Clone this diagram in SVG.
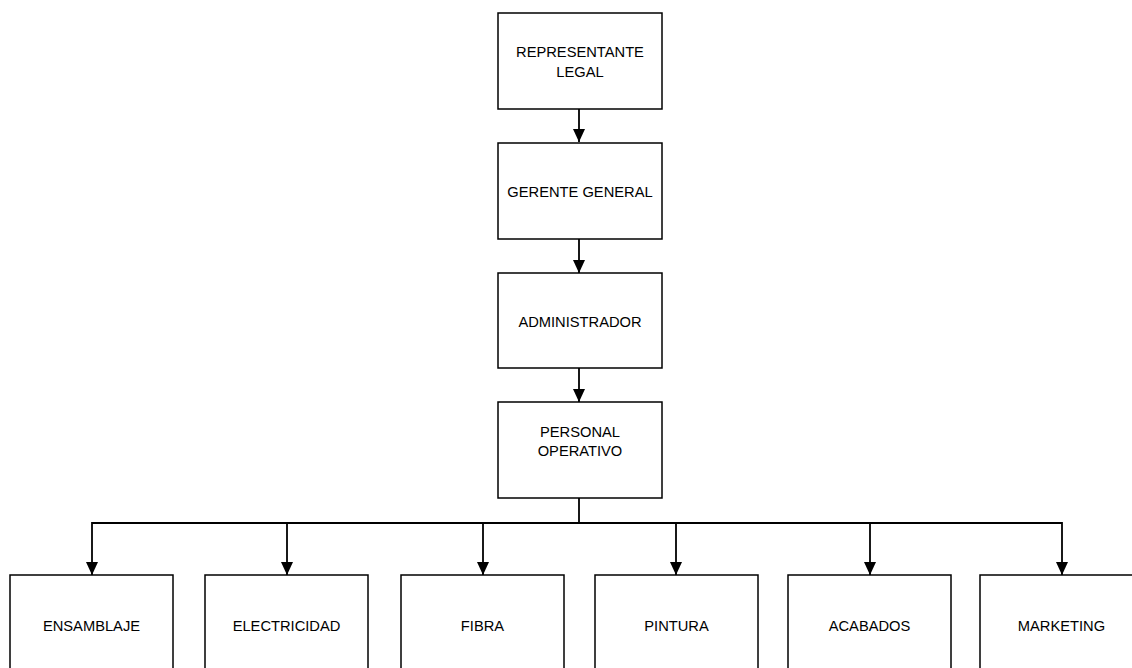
<svg xmlns="http://www.w3.org/2000/svg" width="1132" height="668" viewBox="0 0 1132 668">
<style>
.box{fill:#fff;stroke:#000;stroke-width:1.5}
.lbl{font-family:"Liberation Sans",Arial,sans-serif;font-size:14.7px;fill:#000;text-anchor:middle}
.con{fill:none;stroke:#000;stroke-width:1.8}
</style>
<defs>
<marker id="arr" markerWidth="13" markerHeight="12" refX="13" refY="6" orient="auto" markerUnits="userSpaceOnUse">
<path d="M0,0 L13,6 L0,12 Z" fill="#000"/>
</marker>
</defs>
<rect width="1132" height="668" fill="#fff"/>
<g id="connectors">
<line class="con" x1="579" y1="109" x2="579" y2="142" marker-end="url(#arr)"/>
<line class="con" x1="579" y1="239" x2="579" y2="273" marker-end="url(#arr)"/>
<line class="con" x1="579" y1="368" x2="579" y2="402" marker-end="url(#arr)"/>
<path class="con" d="M579,498 V523"/>
<path class="con" d="M92,523 H1062"/>
<line class="con" x1="92" y1="522" x2="92" y2="575" marker-end="url(#arr)"/>
<line class="con" x1="287" y1="522" x2="287" y2="575" marker-end="url(#arr)"/>
<line class="con" x1="483" y1="522" x2="483" y2="575" marker-end="url(#arr)"/>
<line class="con" x1="676" y1="522" x2="676" y2="575" marker-end="url(#arr)"/>
<line class="con" x1="870" y1="522" x2="870" y2="575" marker-end="url(#arr)"/>
<line class="con" x1="1062" y1="522" x2="1062" y2="575" marker-end="url(#arr)"/>
</g>
<g id="representante">
<rect class="box" x="498" y="13" width="164" height="96"/>
<text class="lbl" x="580" y="57">REPRESENTANTE</text>
<text class="lbl" x="580" y="77">LEGAL</text>
</g>
<g id="gerente">
<rect class="box" x="498" y="143" width="164" height="96"/>
<text class="lbl" x="580" y="197">GERENTE GENERAL</text>
</g>
<g id="administrador">
<rect class="box" x="498" y="273" width="164" height="95"/>
<text class="lbl" x="580" y="327">ADMINISTRADOR</text>
</g>
<g id="personal">
<rect class="box" x="498" y="402" width="164" height="96"/>
<text class="lbl" x="580" y="437">PERSONAL</text>
<text class="lbl" x="580" y="456">OPERATIVO</text>
</g>
<g id="ensamblaje">
<rect class="box" x="10" y="575" width="163" height="110"/>
<text class="lbl" x="91.5" y="631">ENSAMBLAJE</text>
</g>
<g id="electricidad">
<rect class="box" x="205" y="575" width="163" height="110"/>
<text class="lbl" x="286.5" y="631">ELECTRICIDAD</text>
</g>
<g id="fibra">
<rect class="box" x="401" y="575" width="163" height="110"/>
<text class="lbl" x="482.5" y="631">FIBRA</text>
</g>
<g id="pintura">
<rect class="box" x="595" y="575" width="163" height="110"/>
<text class="lbl" x="676.5" y="631">PINTURA</text>
</g>
<g id="acabados">
<rect class="box" x="788" y="575" width="163" height="110"/>
<text class="lbl" x="869.5" y="631">ACABADOS</text>
</g>
<g id="marketing">
<rect class="box" x="980" y="575" width="163" height="110"/>
<text class="lbl" x="1061.5" y="631">MARKETING</text>
</g>
</svg>
